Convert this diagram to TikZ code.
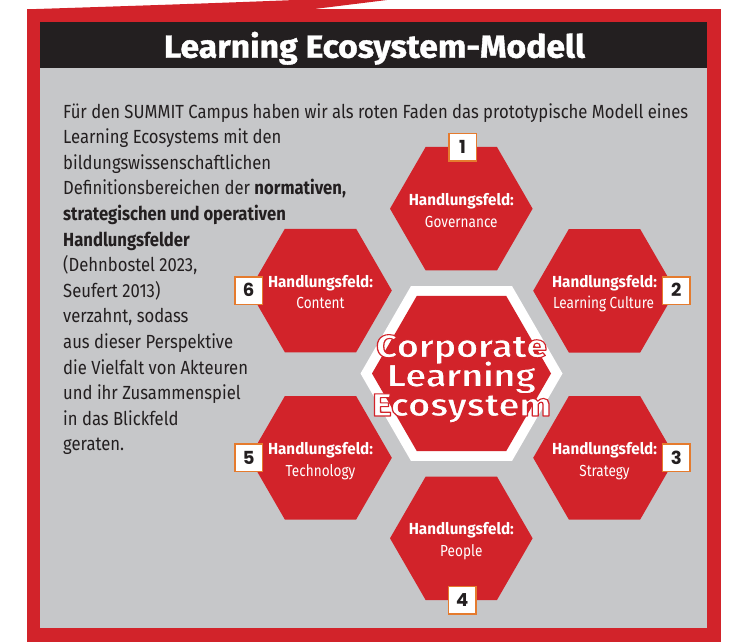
\documentclass[tikz,border=0pt]{standalone}
\usepackage{fontspec}
\usepackage{graphicx}
\setmainfont{Fira Sans}
\newfontfamily\numfont{Poppins}
\newfontfamily\heavyfont{Fira Sans}[BoldFeatures={FakeBold=1.2}]
\definecolor{hexred}{HTML}{D2232A}
\definecolor{panelgray}{HTML}{C6C7C9}
\definecolor{barblack}{HTML}{231F20}
\definecolor{boxorange}{HTML}{E57B2E}
\definecolor{inktext}{HTML}{231F20}
\newsavebox\measbox
\newlength\measlen
\newcommand\setscale[3]{\sbox\measbox{#3}\setlength\measlen{\wd\measbox}\pgfmathsetmacro#1{#2/\measlen}}
\newcommand\bodyfnt{\fontsize{19}{25.6}\selectfont}
\newcommand\titlefnt{\heavyfont\fontsize{32}{36}\selectfont\bfseries}
\newcommand\hexfnt{\fontsize{16}{18}\selectfont}
\newcommand\cenfnt{\fontsize{32}{32}\selectfont\bfseries}
\newcommand\redoutline[1]{\special{pdf:literal direct 2 Tr 1.1 w 1 j 0.824 0.137 0.165 RG}#1\special{pdf:literal direct 0 Tr}}
\begin{document}
\setscale{\bodyscale}{625}{\bodyfnt Für den SUMMIT Campus haben wir als roten Faden das prototypische Modell eines}
\setscale{\titlescale}{421}{\titlefnt Learning Ecosystem-Modell}
\setscale{\hexscale}{105}{\hexfnt\bfseries Handlungsfeld:}
\setscale{\subscale}{101}{\hexfnt Learning Culture}
\setscale{\censcale}{179}{\cenfnt Ecosystem}
\begin{tikzpicture}[x=1pt,y=-1pt,
  bodytext/.style={anchor=base west, inner sep=0pt, text=inktext, font=\bodyfnt},
  hexhead/.style={anchor=base, inner sep=0pt, text=white, font=\hexfnt\bfseries},
  hexsub/.style={anchor=base, inner sep=0pt, text=white, font=\hexfnt},
  numbox/.style={draw=boxorange, line width=1.5pt, fill=white, minimum size=27.5pt, inner sep=0pt, text=barblack, font=\numfont\bfseries\fontsize{18}{18}\selectfont, text height=12.6pt, text depth=0pt},
  centext/.style={anchor=base, inner sep=0pt, text=white, font=\cenfnt}]
\useasboundingbox (0,0) rectangle (730,642);
% frame
\fill[hexred] (27,9.3) rectangle (721,642);
\fill[hexred] (27,9.3) .. controls (130,6) and (220,3) .. (295,0) -- (387,0) -- (312,9.3) -- cycle;
\fill[barblack] (40,21.7) rectangle (707.3,67.7);
\fill[panelgray] (40,67.7) rectangle (707.3,628);
% title
\node[anchor=base, inner sep=0pt, text=white, font=\titlefnt] (title) at (374.5,57.7) {\scalebox{\titlescale}[1]{Learning Ecosystem-Modell}};
% body text
\node[bodytext] (t1) at (63,118) {\scalebox{\bodyscale}[1]{Für den SUMMIT Campus haben wir als roten Faden das prototypische Modell eines}};
\node[bodytext] (t2) at (63,143.6) {\scalebox{\bodyscale}[1]{Learning Ecosystems mit den}};
\node[bodytext] (t3) at (63,169.2) {\scalebox{\bodyscale}[1]{bildungswissenschaftlichen}};
\node[bodytext] (t4) at (63,194.8) {\scalebox{\bodyscale}[1]{Definitionsbereichen der \textbf{normativen,}}};
\node[bodytext] (t5) at (63,220.4) {\scalebox{\bodyscale}[1]{\textbf{strategischen und operativen}}};
\node[bodytext] (t6) at (63,246) {\scalebox{\bodyscale}[1]{\textbf{Handlungsfelder}}};
\node[bodytext] (t7) at (63,271.6) {\scalebox{\bodyscale}[1]{(Dehnbostel 2023,}};
\node[bodytext] (t8) at (63,297.2) {\scalebox{\bodyscale}[1]{Seufert 2013)}};
\node[bodytext] (t9) at (63,322.8) {\scalebox{\bodyscale}[1]{verzahnt, sodass}};
\node[bodytext] (t10) at (63,348.4) {\scalebox{\bodyscale}[1]{aus dieser Perspektive}};
\node[bodytext] (t11) at (63,374) {\scalebox{\bodyscale}[1]{die Vielfalt von Akteuren}};
\node[bodytext] (t12) at (63,399.6) {\scalebox{\bodyscale}[1]{und ihr Zusammenspiel}};
\node[bodytext] (t13) at (63,425.2) {\scalebox{\bodyscale}[1]{in das Blickfeld}};
\node[bodytext] (t14) at (63,450.8) {\scalebox{\bodyscale}[1]{geraten.}};
% hexagon centres
\coordinate (c0) at (461.5,373.5);
\coordinate (p1) at (461.3,208.7);
\coordinate (p2) at (604.5,290.8);
\coordinate (p3) at (604.5,457.8);
\coordinate (p4) at (461.3,538.3);
\coordinate (p5) at (320.5,457.8);
\coordinate (p6) at (320.5,290.5);
\foreach \p in {p1,p2,p3,p4,p5,p6}
  \fill[hexred] (\p) +(0:71.3) -- +(60:71.3) -- +(120:71.3) -- +(180:71.3) -- +(240:71.3) -- +(300:71.3) -- cycle;
\fill[white] (c0) +(0:101) -- +(60:101) -- +(120:101) -- +(180:101) -- +(240:101) -- +(300:101) -- cycle;
\fill[hexred] (c0) +(0:89.5) -- +(60:89.5) -- +(120:89.5) -- +(180:89.5) -- +(240:89.5) -- +(300:89.5) -- cycle;
% labels
\node[hexhead] (l1a) at (461.3,205.2) {\scalebox{\hexscale}[1]{Handlungsfeld:}};
\node[hexsub] (l1b) at (461.3,227.2) {\scalebox{\subscale}[1]{Governance}};
\node[hexhead] (l2a) at (604.5,287.3) {\scalebox{\hexscale}[1]{Handlungsfeld:}};
\node[hexsub] (l2b) at (603.5,308.8) {\scalebox{\subscale}[1]{Learning Culture}};
\node[hexhead] (l3a) at (604.5,454.8) {\scalebox{\hexscale}[1]{Handlungsfeld:}};
\node[hexsub] (l3b) at (604.5,476.3) {\scalebox{\subscale}[1]{Strategy}};
\node[hexhead] (l4a) at (461.3,534.8) {\scalebox{\hexscale}[1]{Handlungsfeld:}};
\node[hexsub] (l4b) at (461.3,556.3) {\scalebox{\subscale}[1]{People}};
\node[hexhead] (l5a) at (320.5,454.8) {\scalebox{\hexscale}[1]{Handlungsfeld:}};
\node[hexsub] (l5b) at (320.5,476.3) {\scalebox{\subscale}[1]{Technology}};
\node[hexhead] (l6a) at (320.5,287) {\scalebox{\hexscale}[1]{Handlungsfeld:}};
\node[hexsub] (l6b) at (320.5,308.5) {\scalebox{\subscale}[1]{Content}};
% centre text
\node[centext] (ct1) at (461.5,357.3) {\scalebox{\censcale}[1]{\redoutline{Corporate}}};
\node[centext] (ct2) at (461.5,386.7) {\scalebox{\censcale}[1]{\redoutline{Learning}}};
\node[centext] (ct3) at (461.5,416) {\scalebox{\censcale}[1]{\redoutline{Ecosystem}}};
% number boxes
\node[numbox] (n1) at (462.5,147.3) {1};
\node[numbox] (n2) at (676.2,290.6) {2};
\node[numbox] (n3) at (676.2,457.8) {3};
\node[numbox] (n4) at (462.2,600.3) {4};
\node[numbox] (n5) at (248.7,457.8) {5};
\node[numbox] (n6) at (248.7,290.5) {6};
\end{tikzpicture}
\end{document}
